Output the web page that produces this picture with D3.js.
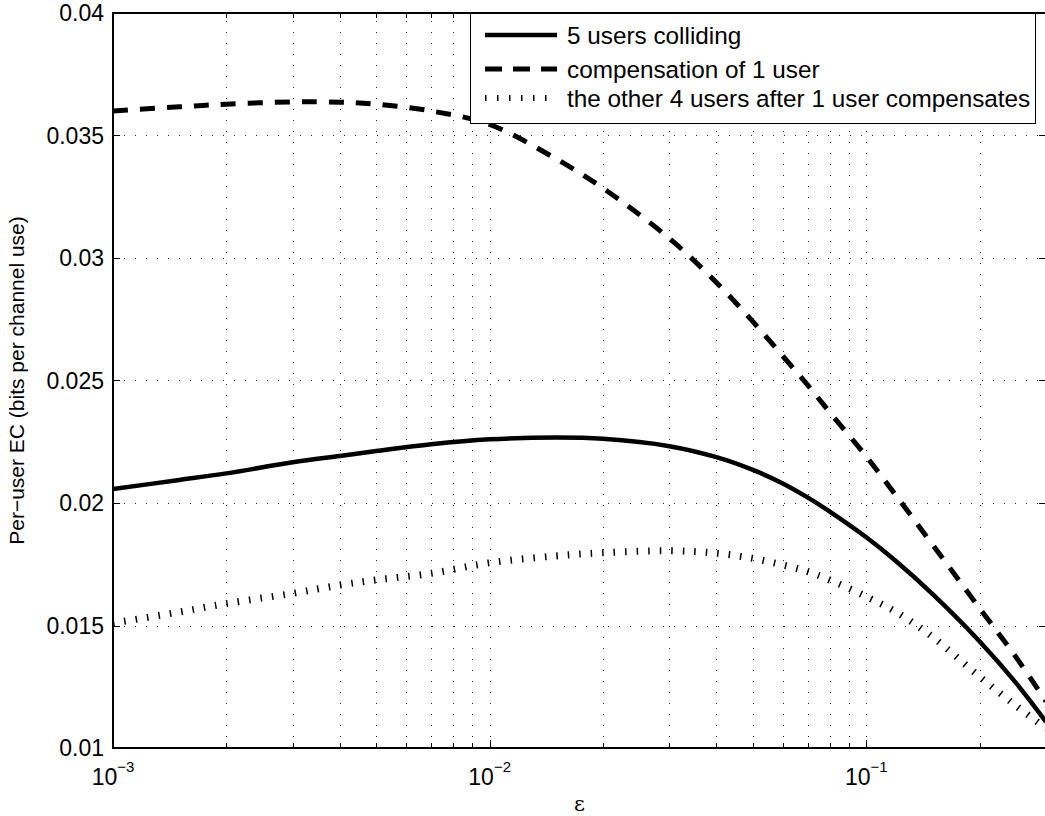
<!DOCTYPE html>
<html>
<head>
<meta charset="utf-8">
<script src="https://cdn.jsdelivr.net/npm/d3@7"></script>
<style>
  html, body { margin: 0; padding: 0; background: #fff; }
  svg { display: block; font-family: "Liberation Sans", Arial, Helvetica, sans-serif; }
</style>
</head>
<body>
<figure id="ec-chart" style="margin:0"></figure>
<script>
// values
const epsValues = [0.001, 0.0015, 0.002, 0.003, 0.004, 0.005, 0.007, 0.01, 0.015, 0.02, 0.03,
                   0.04, 0.05, 0.06, 0.07, 0.08, 0.1, 0.12, 0.15, 0.2, 0.25, 0.3];
const collidingValues = [0.02057, 0.02094, 0.02121, 0.02166, 0.02192, 0.02212, 0.02240, 0.02260, 0.02267, 0.02262, 0.02232,
                         0.02187, 0.02135, 0.02080, 0.02022, 0.01965, 0.01860, 0.01762, 0.01628, 0.01435, 0.01265, 0.01107];
const compensationValues = [0.03600, 0.03617, 0.03628, 0.03637, 0.03636, 0.03628, 0.03600, 0.03545, 0.03405, 0.03285, 0.03080,
                            0.02900, 0.02740, 0.02600, 0.02480, 0.02370, 0.02190, 0.02030, 0.01830, 0.01570, 0.01370, 0.01190];
const othersValues = [0.01510, 0.01555, 0.01590, 0.01631, 0.01665, 0.01686, 0.01713, 0.01756, 0.01784, 0.01797, 0.01805,
                      0.01795, 0.01774, 0.01747, 0.01720, 0.01686, 0.01618, 0.01555, 0.01453, 0.01291, 0.01172, 0.01080];

const seriesNames = ['5 users colliding', 'compensation of 1 user', 'the other 4 users after 1 user compensates'];
const yTickValues = [0.01, 0.015, 0.02, 0.025, 0.03, 0.035, 0.04];
const yTickLabels = ['0.01', '0.015', '0.02', '0.025', '0.03', '0.035', '0.04'];
const xMajorTicks = [0.001, 0.01, 0.1];
const xMajorExponents = ['\u22123', '\u22122', '\u22121'];
const xMinorTicks = [0.002, 0.003, 0.004, 0.005, 0.006, 0.007, 0.008, 0.009,
                     0.02, 0.03, 0.04, 0.05, 0.06, 0.07, 0.08, 0.09, 0.2, 0.3];

const W = 1045, H = 816;
const plotLeft = 113, plotRight = 1046, plotTop = 13, plotBottom = 748;

const svg = d3.select('figure#ec-chart')
    .append('svg')
    .attr('width', W)
    .attr('height', H);

const x = d3.scaleLog().domain([0.001, 0.3]).range([plotLeft, plotRight]);
const y = d3.scaleLinear().domain([0.01, 0.04]).range([plotBottom, plotTop]);

// grid (dotted, MATLAB style)
const grid = svg.append('g').attr('class', 'grid')
    .attr('stroke', '#222').attr('stroke-width', 1).attr('stroke-dasharray', '1,10');

grid.selectAll('.vgrid')
    .data(xMajorTicks.concat(xMinorTicks).filter(d => d < 0.3 && d > 0.001))
    .enter()
    .append('line')
    .attr('x1', d => Math.round(x(d)) + 0.5)
    .attr('x2', d => Math.round(x(d)) + 0.5)
    .attr('y1', plotBottom)
    .attr('y2', plotTop);

grid.selectAll('.hgrid')
    .data(yTickValues.filter(d => d > 0.01 && d < 0.04))
    .enter()
    .append('line')
    .attr('x1', plotLeft)
    .attr('x2', plotRight)
    .attr('y1', d => Math.round(y(d)) + 0.5)
    .attr('y2', d => Math.round(y(d)) + 0.5);

// ticks on all four sides, pointing inward
const ticks = svg.append('g').attr('stroke', '#000').attr('stroke-width', 1);
const addXTicks = (vals, len) => {
    vals.forEach(v => {
        const px = Math.round(x(v)) + 0.5;
        ticks.append('line').attr('x1', px).attr('x2', px).attr('y1', plotBottom).attr('y2', plotBottom - len);
        ticks.append('line').attr('x1', px).attr('x2', px).attr('y1', plotTop).attr('y2', plotTop + len);
    });
};
addXTicks(xMajorTicks, 8);
addXTicks(xMinorTicks, 5);
yTickValues.forEach(v => {
    const py = Math.round(y(v)) + 0.5;
    ticks.append('line').attr('x1', plotLeft).attr('x2', plotLeft + 7).attr('y1', py).attr('y2', py);
    ticks.append('line').attr('x1', plotRight).attr('x2', plotRight - 7).attr('y1', py).attr('y2', py);
});

// curves
svg.append('clipPath').attr('id', 'plot-clip')
    .append('rect').attr('x', plotLeft).attr('y', plotTop)
    .attr('width', plotRight - plotLeft).attr('height', plotBottom - plotTop);

const line = d3.line()
    .x(d => x(d[0]))
    .y(d => y(d[1]))
    .curve(d3.curveCatmullRom.alpha(0.5));

const styles = [
    { dash: null, width: 4.5 },
    { dash: '15,12', width: 5 },
    { dash: '1.5,10', width: 7 }
];
const allSeries = [collidingValues, compensationValues, othersValues];

const curves = svg.append('g').attr('clip-path', 'url(#plot-clip)');
allSeries.forEach((vals, i) => {
    curves.append('path')
        .datum(epsValues.map((e, j) => [e, vals[j]]))
        .attr('d', line)
        .attr('fill', 'none')
        .attr('stroke', '#000')
        .attr('stroke-width', styles[i].width)
        .attr('stroke-dasharray', styles[i].dash);
});

// axes box
svg.append('rect')
    .attr('x', plotLeft).attr('y', plotTop)
    .attr('width', plotRight - plotLeft).attr('height', plotBottom - plotTop)
    .attr('fill', 'none').attr('stroke', '#000').attr('stroke-width', 2);

// tick labels
svg.append('g').selectAll('text')
    .data(yTickValues)
    .enter()
    .append('text')
    .attr('x', plotLeft - 9)
    .attr('y', d => y(d))
    .attr('dy', '0.36em')
    .attr('text-anchor', 'end')
    .attr('font-size', 23)
    .text((d, i) => yTickLabels[i]);

const xLabels = svg.append('g').selectAll('text')
    .data(xMajorTicks)
    .enter()
    .append('text')
    .attr('x', d => x(d))
    .attr('y', 785)
    .attr('text-anchor', 'middle')
    .attr('font-size', 23);
xLabels.append('tspan').text('10');
xLabels.append('tspan').attr('dy', -13).attr('font-size', 15).text((d, i) => xMajorExponents[i]);

// axis titles
svg.append('text')
    .attr('x', (plotLeft + plotRight) / 2)
    .attr('y', 811)
    .attr('text-anchor', 'middle')
    .attr('font-family', '"DejaVu Serif", "Liberation Serif", serif')
    .attr('font-size', 21)
    .text('\u03b5');

svg.append('text')
    .attr('transform', `translate(24,${(plotTop + plotBottom) / 2}) rotate(-90)`)
    .attr('text-anchor', 'middle')
    .attr('font-size', 21)
    .text('Per\u2212user EC (bits per channel use)');

// legend
const legend = svg.append('g');
legend.append('rect')
    .attr('x', 470.5).attr('y', 13.5)
    .attr('width', 565).attr('height', 110)
    .attr('fill', '#fff').attr('stroke', '#000').attr('stroke-width', 1);

const legendRows = [35, 69, 98];
seriesNames.forEach((name, i) => {
    legend.append('line')
        .attr('x1', 485).attr('x2', 557)
        .attr('y1', legendRows[i]).attr('y2', legendRows[i])
        .attr('stroke', '#000')
        .attr('stroke-width', i === 2 ? 6 : styles[i].width)
        .attr('stroke-dasharray', i === 1 ? '17,11' : (i === 2 ? '1.5,10.5' : null));
    legend.append('text')
        .attr('x', 567)
        .attr('y', legendRows[i])
        .attr('dy', '0.35em')
        .attr('font-size', 24.3)
        .text(name);
});
</script>
</body>
</html>
